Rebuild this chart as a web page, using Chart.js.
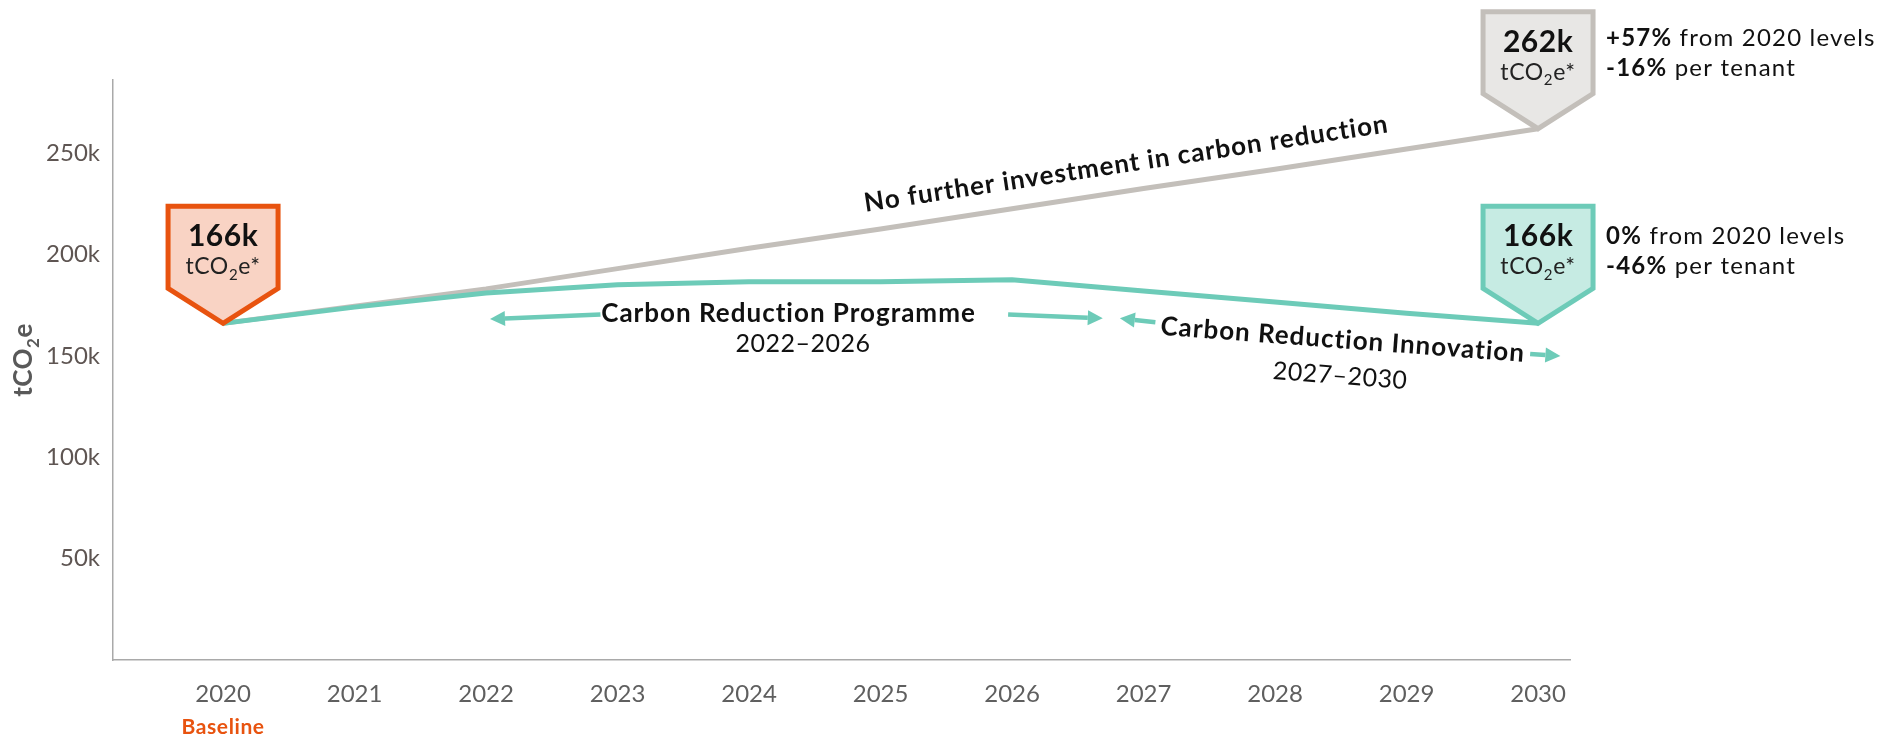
<!DOCTYPE html>
<html>
<head>
<meta charset="utf-8">
<title>Carbon emissions trajectory</title>
<script src="https://cdn.jsdelivr.net/npm/chart.js@4.4.0/dist/chart.umd.min.js"></script>
<style>
    html, body { margin: 0; padding: 0; background: #ffffff; }
    #chartWrap { width: 1902px; height: 736px; }
</style>
</head>
<body>
<div id="chartWrap"><canvas id="emissionsChart" width="1902" height="736"></canvas></div>
<script>
// Emissions in thousand tCO2e
const years = [2020, 2021, 2022, 2023, 2024, 2025, 2026, 2027, 2028, 2029, 2030];
const withProgramme = [166, 174, 181, 185, 186.5, 186.5, 187.5, 182, 176.5, 171, 166];
const noInvestment = [166, 174.5, 183, 193, 203, 212.5, 222.5, 232.5, 242, 252, 262];
const yTicks = [50, 100, 150, 200, 250];

const FONT = 'Lato, "DejaVu Sans", sans-serif';
const TEAL = '#6dcbb8';
const GREY = '#c3bfba';
const ORANGE = '#e8530f';

// Callout boxes pinned to a data point
const callouts = [
    { series: withProgramme, index: 0, fill: '#f9d3c4', stroke: ORANGE, notes: [], noteTop: 0 },
    { series: noInvestment, index: 10, fill: '#e8e7e5', stroke: GREY,
      notes: [['+57%', ' from 2020 levels'], ['-16%', ' per tenant']], noteTop: -83 },
    { series: withProgramme, index: 10, fill: '#c6ebe3', stroke: TEAL,
      notes: [['0%', ' from 2020 levels'], ['-46%', ' per tenant']], noteTop: -79 }
];

// Period arrows, tail -> tip, in year / kt units
const arrows = [
    { from: [2022.87, 170.4], to: [2022.03, 168.1] },
    { from: [2025.97, 170.4], to: [2026.69, 168.5] },
    { from: [2027.09, 166.5], to: [2026.82, 168.5] },
    { from: [2029.94, 150.9], to: [2030.17, 149.9] }
];

function toPixel(chart, pt) {
    return [chart.scales.x.getPixelForValue(pt[0]), chart.scales.y.getPixelForValue(pt[1])];
}

function setFont(ctx, font, spacing) {
    ctx.font = font;
    ctx.letterSpacing = `${spacing || 0}px`;
}

// "tCO2e" style text with a subscript 2
function drawChem(ctx, before, after, x, y, size, weight, align, spacing) {
    const main = `${weight} ${size}px ${FONT}`;
    const sub = `${weight} ${Math.round(size * 0.65)}px ${FONT}`;
    setFont(ctx, main, spacing);
    const w1 = ctx.measureText(before).width;
    const w3 = ctx.measureText(after).width;
    setFont(ctx, sub, spacing);
    const w2 = ctx.measureText('2').width;
    const total = w1 + w2 + w3;
    const left = align === 'center' ? x - total / 2 : x;
    ctx.textAlign = 'left';
    ctx.textBaseline = 'alphabetic';
    setFont(ctx, main, spacing);
    ctx.fillText(before, left, y);
    setFont(ctx, sub, spacing);
    ctx.fillText('2', left + w1, y + size * 0.25);
    setFont(ctx, main, spacing);
    ctx.fillText(after, left + w1 + w2, y);
    ctx.letterSpacing = '0px';
}

function drawArrow(ctx, from, to) {
    const ang = Math.atan2(to[1] - from[1], to[0] - from[0]);
    const head = 15;
    const bx = to[0] - Math.cos(ang) * head;
    const by = to[1] - Math.sin(ang) * head;
    ctx.strokeStyle = TEAL;
    ctx.fillStyle = TEAL;
    ctx.lineWidth = 4.5;
    ctx.beginPath();
    ctx.moveTo(from[0], from[1]);
    ctx.lineTo(bx, by);
    ctx.stroke();
    ctx.beginPath();
    ctx.moveTo(to[0], to[1]);
    ctx.lineTo(bx + Math.sin(ang) * 7.5, by - Math.cos(ang) * 7.5);
    ctx.lineTo(bx - Math.sin(ang) * 7.5, by + Math.cos(ang) * 7.5);
    ctx.closePath();
    ctx.fill();
}

function drawRotatedText(ctx, text, x, y, angle, font, spacing) {
    ctx.save();
    ctx.translate(x, y);
    ctx.rotate(angle);
    setFont(ctx, font, spacing);
    ctx.textAlign = 'center';
    ctx.textBaseline = 'alphabetic';
    ctx.fillText(text, 0, 0);
    ctx.restore();
}

const annotationPlugin = {
    id: 'annotations',
    afterDraw(chart) {
        const ctx = chart.ctx;
        const { x } = chart.scales;
        ctx.save();

        // Axis title
        ctx.save();
        ctx.translate(23, 360);
        ctx.rotate(-Math.PI / 2);
        ctx.fillStyle = '#595959';
        drawChem(ctx, 'tCO', 'e', 0, 9, 26, 'bold', 'center', 0.5);
        ctx.restore();

        // Baseline marker under the first year
        ctx.fillStyle = ORANGE;
        setFont(ctx, `bold 21px ${FONT}`, 0.6);
        ctx.textAlign = 'center';
        ctx.textBaseline = 'alphabetic';
        ctx.fillText('Baseline', x.getPixelForValue(years[0]), 734);

        // Line label along the no-investment trajectory
        const g0 = toPixel(chart, [years[2], noInvestment[2]]);
        const g1 = toPixel(chart, [years[10], noInvestment[10]]);
        const gAng = Math.atan2(g1[1] - g0[1], g1[0] - g0[0]);
        const gx = x.getPixelForValue(2026.9);
        const gy = g0[1] + (gx - g0[0]) * Math.tan(gAng);
        ctx.fillStyle = '#111111';
        drawRotatedText(ctx, 'No further investment in carbon reduction',
            gx + Math.sin(gAng) * 19, gy - Math.cos(gAng) * 19, gAng, `bold 26px ${FONT}`, 1);

        // Programme periods
        setFont(ctx, `bold 26px ${FONT}`, 1);
        ctx.textAlign = 'center';
        let p = toPixel(chart, [2024.30, 166.6]);
        ctx.fillText('Carbon Reduction Programme', p[0], p[1]);
        setFont(ctx, `25px ${FONT}`, 0.5);
        p = toPixel(chart, [2024.41, 151.9]);
        ctx.fillText('2022\u20132026', p[0], p[1]);

        const t0 = toPixel(chart, [years[6], withProgramme[6]]);
        const t1 = toPixel(chart, [years[10], withProgramme[10]]);
        const tAng = Math.atan2(t1[1] - t0[1], t1[0] - t0[0]) * 0.9;
        p = toPixel(chart, [2028.51, 153.7]);
        drawRotatedText(ctx, 'Carbon Reduction Innovation', p[0], p[1], tAng, `bold 26px ${FONT}`, 1);
        p = toPixel(chart, [2028.49, 136.1]);
        drawRotatedText(ctx, '2027\u20132030', p[0], p[1], tAng, `25px ${FONT}`, 0.5);

        arrows.forEach(a => drawArrow(ctx, toPixel(chart, a.from), toPixel(chart, a.to)));

        // Value callouts
        callouts.forEach(c => {
            const value = c.series[c.index];
            const [tx, ty] = toPixel(chart, [years[c.index], value]);
            const half = 55;
            ctx.beginPath();
            ctx.moveTo(tx - half, ty - 117);
            ctx.lineTo(tx + half, ty - 117);
            ctx.lineTo(tx + half, ty - 35);
            ctx.lineTo(tx, ty);
            ctx.lineTo(tx - half, ty - 35);
            ctx.closePath();
            ctx.fillStyle = c.fill;
            ctx.fill();
            ctx.lineWidth = 5;
            ctx.lineJoin = 'miter';
            ctx.strokeStyle = c.stroke;
            ctx.stroke();

            ctx.fillStyle = '#111111';
            setFont(ctx, `bold 30px ${FONT}`, 0.5);
            ctx.textAlign = 'center';
            ctx.fillText(`${Math.round(value)}k`, tx, ty - 77);
            ctx.fillStyle = '#222222';
            drawChem(ctx, 'tCO', 'e*', tx, ty - 49, 23, 'normal', 'center', 0.6);

            c.notes.forEach((line, i) => {
                const nx = tx + 68;
                const ny = ty + c.noteTop + i * 30;
                ctx.textAlign = 'left';
                ctx.fillStyle = '#111111';
                setFont(ctx, `bold 24px ${FONT}`, 1.2);
                ctx.fillText(line[0], nx, ny);
                const bw = ctx.measureText(line[0]).width;
                setFont(ctx, `24px ${FONT}`, 1.2);
                ctx.fillText(line[1], nx + bw, ny);
            });
        });

        ctx.letterSpacing = '0px';
        ctx.restore();
    }
};

const toPoints = values => years.map((yr, i) => ({ x: yr, y: values[i] }));

new Chart(document.getElementById('emissionsChart'), {
    type: 'line',
    data: {
        datasets: [
            {
                label: 'Carbon reduction',
                data: toPoints(withProgramme),
                borderColor: TEAL,
                borderWidth: 5,
                pointRadius: 0,
                tension: 0
            },
            {
                label: 'No further investment',
                data: toPoints(noInvestment),
                borderColor: GREY,
                borderWidth: 5,
                pointRadius: 0,
                tension: 0
            }
        ]
    },
    options: {
        responsive: false,
        animation: false,
        devicePixelRatio: 1,
        layout: { padding: { left: 0, top: 80, right: 332, bottom: 0 } },
        plugins: {
            legend: { display: false },
            tooltip: { enabled: false }
        },
        scales: {
            x: {
                type: 'linear',
                min: 2019.163,
                max: 2030.243,
                afterBuildTicks: axis => { axis.ticks = years.map(v => ({ value: v })); },
                afterFit: axis => { axis.height = 76; },
                grid: { display: false, drawTicks: false },
                border: { display: true, color: '#a9a9a9', width: 1.5 },
                ticks: {
                    padding: 20,
                    color: '#5f5f5f',
                    font: { family: FONT, size: 24 },
                    callback: v => String(v)
                }
            },
            y: {
                min: 0,
                max: 286,
                afterBuildTicks: axis => { axis.ticks = yTicks.map(v => ({ value: v })); },
                afterFit: axis => { axis.width = 113; },
                grid: { display: false, drawTicks: false },
                border: { display: true, color: '#a9a9a9', width: 1.5 },
                ticks: {
                    padding: 13,
                    color: '#5e5552',
                    font: { family: FONT, size: 24 },
                    callback: v => `${v}k`
                }
            }
        }
    },
    plugins: [annotationPlugin]
});
</script>
</body>
</html>
